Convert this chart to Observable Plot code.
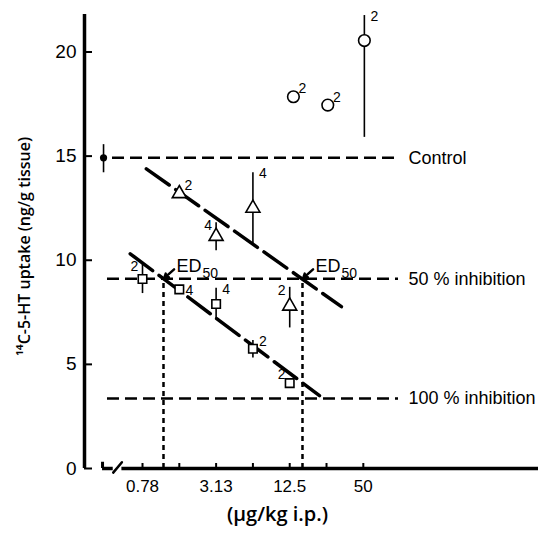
<!DOCTYPE html>
<html>
<head>
<meta charset="utf-8">
<script src="https://cdn.jsdelivr.net/npm/d3@7"></script>
<script src="https://cdn.jsdelivr.net/npm/@observablehq/plot@0.6"></script>
<style>
  html, body { margin: 0; padding: 0; background: #fff; }
  #chart svg { display: block; }
</style>
</head>
<body>
<div id="chart"></div>
<script>
// ---------- data ----------
const doseTicks = [0.78125, 1.5625, 3.125, 6.25, 12.5, 25, 50];
const doseTickLabels = ["0.78", "", "3.13", "", "12.5", "", "50"];
const yTicks = [0, 5, 10, 15, 20];

// control (untreated)
const controlDose = 0.375;
const controlMean = 14.92;
const controlLow = 14.2;
const controlHigh = 15.55;

// triangles
const triDose = [1.5625, 3.125, 6.25, 12.5];
const triMean = [13.2, 11.15, 12.5, 7.8];
const triLow = [13.2, 10.45, 10.8, 6.75];
const triHigh = [13.2, 11.8, 14.2, 8.7];
const triN = ["2", "4", "4", "2"];
const triNPlace = ["ne", "w", "e", "w"];

// squares
const sqDose = [0.78125, 1.5625, 3.125, 6.25, 12.5];
const sqMean = [9.1, 8.6, 7.9, 5.75, 4.1];
const sqLow = [8.4, 8.6, 7.2, 5.3, 4.1];
const sqHigh = [9.85, 8.6, 8.65, 6.15, 4.1];
const sqN = ["2", "4", "4", "2", "2"];
const sqNPlace = ["w", "e", "e", "e", "nw"];

// circles
const cirDose = [13.4, 25.6, 51];
const cirMean = [17.85, 17.45, 20.55];
const cirLow = [17.85, 17.45, 15.9];
const cirHigh = [17.85, 17.45, 21.75];
const cirN = ["2", "2", "2"];
const cirNPlace = ["ne", "ne", "e"];

// fitted lines (end points)
const triFitDose = [0.84, 33.1];
const triFitValue = [14.39, 7.77];
const sqFitDose = [0.62, 21.9];
const sqFitValue = [10.31, 3.5];

// reference levels
const refLabels = ["Control", "50 % inhibition", "100 % inhibition"];
const refValues = [14.92, 9.11, 3.36];
const refFrom = [0.444, 0.404, 0.404];
const refTo = [97, 97, 97];

// ED50 doses
const ed50Dose = [1.16, 15.9];
const ed50Level = 9.11;

// axis decoration (broken x axis)
const xMin = 0.262, xMax = 1355, yMax = 21.8;
const axisStart = 0.368, breakFrom = 0.45, breakTo = 0.53;

const yLabel = "\u00B9\u2074C-5-HT uptake (ng/g tissue)";
const xLabel = "(\u03BCg/kg i.p.)";

// ---------- build rows ----------
const rows = (dose, mean, low, high, n, place) =>
  dose.map((d, i) => ({dose: d, mean: mean[i], low: low[i], high: high[i], n: n[i], place: place[i]}));
const tri = rows(triDose, triMean, triLow, triHigh, triN, triNPlace);
const sq = rows(sqDose, sqMean, sqLow, sqHigh, sqN, sqNPlace);
const cir = rows(cirDose, cirMean, cirLow, cirHigh, cirN, cirNPlace);
const allPts = [...tri, ...sq, ...cir];
const refs = refLabels.map((l, i) => ({label: l, value: refValues[i], from: refFrom[i], to: refTo[i]}));
const eds = ed50Dose.map(d => ({dose: d, level: ed50Level}));
const tickLabelMap = new Map(doseTicks.map((d, i) => [d, doseTickLabels[i]]));

const placeOffsets = {ne: [9, -8], nw: [-8, -9], e: [10, 1], w: [-8, 3]};
const nLabelMarks = Object.entries(placeOffsets).map(([k, [dx, dy]]) =>
  Plot.text(allPts.filter(d => d.place === k), {
    x: "dose", y: "high", text: "n", dx, dy, fontSize: 14, fill: "black",
    textAnchor: "middle", lineAnchor: "middle"
  })
);

const fontMain = "Liberation Sans, Arial, sans-serif";

const chart = Plot.plot({
  width: 538,
  height: 535,
  marginLeft: 84,
  marginRight: 0,
  marginTop: 14,
  marginBottom: 67,
  style: {fontFamily: fontMain, fontSize: "18px", color: "black", background: "white", overflow: "visible"},
  x: {type: "log", base: 2, domain: [xMin, xMax], axis: null},
  y: {domain: [0, yMax], axis: null},
  marks: [
    // axes lines
    Plot.ruleX([xMin], {y1: 0, y2: yMax, strokeWidth: 3.5, stroke: "black"}),
    Plot.ruleY([0], {x1: axisStart, x2: breakFrom, strokeWidth: 3.5, stroke: "black"}),
    Plot.ruleY([0], {x1: breakTo, x2: xMax, strokeWidth: 3.5, stroke: "black"}),
    Plot.ruleX([axisStart], {y1: 0, y2: 0.3, strokeWidth: 3, stroke: "black"}),
    Plot.line([{x: breakFrom, y: -0.2}, {x: breakTo, y: 0.3}], {x: "x", y: "y", strokeWidth: 2.5, stroke: "black"}),
    // ticks
    Plot.tickY(yTicks, {y: d => d, insetRight: 446, strokeWidth: 2, stroke: "black"}),
    Plot.tickX(doseTicks, {x: d => d, insetTop: 449, strokeWidth: 2, stroke: "black"}),
    Plot.axisY({ticks: yTicks, tickSize: 0, tickPadding: 8, fontSize: 19, label: null}),
    Plot.axisX({ticks: doseTicks, tickSize: 0, tickPadding: 11, fontSize: 17, label: null,
      tickFormat: d => tickLabelMap.get(d) ?? ""}),
    // axis titles
    Plot.text([yLabel], {frameAnchor: "left", dx: -60, dy: 5, rotate: -90, fontSize: 16, fontWeight: 600,
      fontFamily: "Open Sans, sans-serif", textAnchor: "middle"}),
    Plot.text([xLabel], {frameAnchor: "bottom", dx: -34, dy: 52, fontSize: 20, fontWeight: 600,
      fontFamily: "Open Sans, sans-serif", textAnchor: "middle"}),
    // reference levels
    Plot.ruleY(refs, {y: "value", x1: "from", x2: "to", strokeWidth: 2.5, strokeDasharray: "12,6", stroke: "black"}),
    Plot.text(refs, {x: "to", y: "value", text: "label", dx: 10, textAnchor: "start", fontSize: 18}),
    // ED50 projections
    Plot.ruleX(eds, {x: "dose", y1: 0, y2: "level", strokeWidth: 2.5, strokeDasharray: "5,4", stroke: "black"}),
    Plot.arrow(eds, {x1: d => d.dose * 1.22, y1: d => d.level + 0.45, x2: "dose", y2: "level",
      insetEnd: 1, headLength: 7, strokeWidth: 2.5, stroke: "black"}),
    Plot.text(eds, {x: "dose", y: "level", text: () => "ED", dx: 13, dy: -13, textAnchor: "start", fontSize: 18}),
    Plot.text(eds, {x: "dose", y: "level", text: () => "50", dx: 39, dy: -5, textAnchor: "start", fontSize: 14}),
    // fitted lines
    Plot.line(triFitDose.map((d, i) => ({dose: d, v: triFitValue[i]})), {x: "dose", y: "v",
      strokeWidth: 3.5, strokeDasharray: "28,8", stroke: "black"}),
    Plot.line(sqFitDose.map((d, i) => ({dose: d, v: sqFitValue[i]})), {x: "dose", y: "v",
      strokeWidth: 3.5, strokeDasharray: "28,8", stroke: "black"}),
    // error bars
    Plot.ruleX(allPts.filter(d => d.high > d.low), {x: "dose", y1: "low", y2: "high", strokeWidth: 1.6, stroke: "black"}),
    Plot.ruleX([{dose: controlDose, low: controlLow, high: controlHigh}], {x: "dose", y1: "low", y2: "high", strokeWidth: 1.6, stroke: "black"}),
    // points
    Plot.dot(tri, {x: "dose", y: "mean", symbol: "triangle", r: 5.2, fill: "white", stroke: "black", strokeWidth: 1.6}),
    Plot.dot(sq, {x: "dose", y: "mean", symbol: "square", r: 4.8, fill: "white", stroke: "black", strokeWidth: 1.6}),
    Plot.dot(cir, {x: "dose", y: "mean", symbol: "circle", r: 5.8, fill: "white", stroke: "black", strokeWidth: 1.6}),
    Plot.dot([{dose: controlDose, v: controlMean}], {x: "dose", y: "v", r: 3.6, fill: "black"}),
    ...nLabelMarks
  ]
});
document.getElementById("chart").appendChild(chart);
</script>
</body>
</html>
